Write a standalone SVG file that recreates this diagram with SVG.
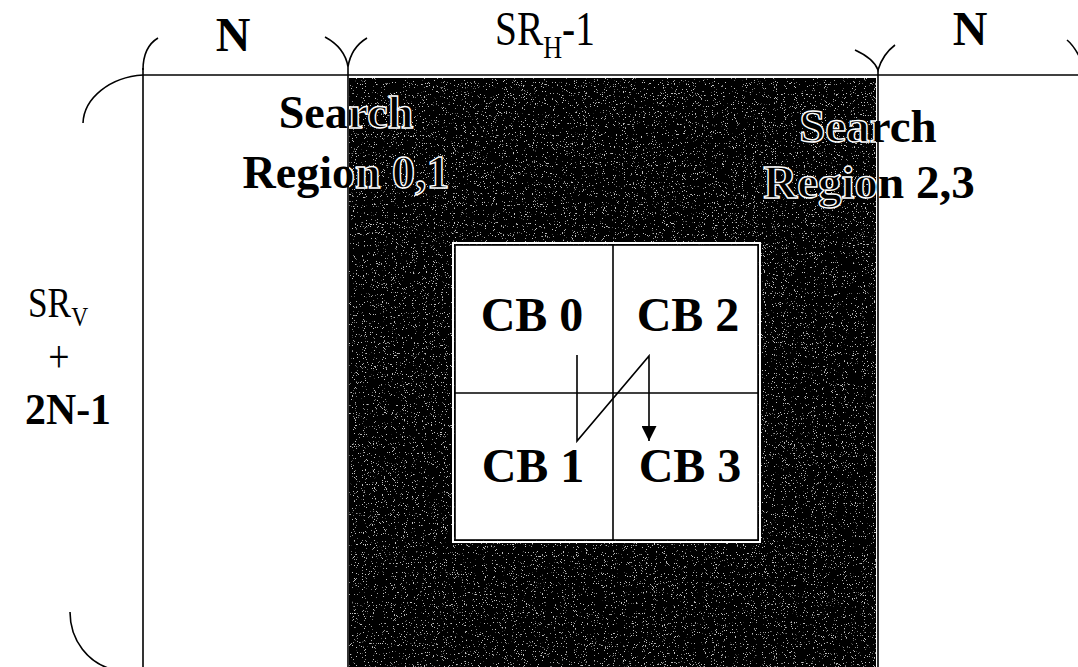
<svg xmlns="http://www.w3.org/2000/svg" xmlns:xlink="http://www.w3.org/1999/xlink" width="1078" height="667" viewBox="0 0 1078 667">
<style>
.tb{font-family:"Liberation Serif","Times New Roman",serif;font-weight:bold;fill:#000}
.tr{font-family:"Liberation Serif","Times New Roman",serif;font-weight:normal;fill:#000}
.ln{fill:none;stroke:#000;stroke-width:1.6}
.outl{fill:#000;stroke:#fff;stroke-width:1.4}
</style>
<defs>
<filter id="speck" x="0" y="0" width="100%" height="100%">
<feTurbulence type="fractalNoise" baseFrequency="0.9" numOctaves="2" seed="7" result="n"/>
<feColorMatrix in="n" type="matrix" values="0 0 0 0 0.55  0 0 0 0 0.55  0 0 0 0 0.55  14 0 0 0 -9.3" result="dots"/>
<feComposite in="dots" in2="SourceGraphic" operator="over"/>
</filter>
<clipPath id="darkclip"><rect x="349" y="78" width="527" height="589"/></clipPath>
<marker id="ah" viewBox="0 0 10 10" refX="10" refY="5" markerWidth="15" markerHeight="15" markerUnits="userSpaceOnUse" orient="auto"><path d="M0,0 L10,5 L0,10 Z" fill="#000"/></marker>
</defs>
<rect width="1078" height="667" fill="#fff"/>

<g id="dark-region">
<rect x="349" y="78" width="527" height="589" fill="#030303" filter="url(#speck)"/>
</g>

<g id="dimensions">
<line class="ln" x1="143" y1="75" x2="1078" y2="75"/>
<line class="ln" x1="143" y1="68" x2="143" y2="667"/>
<line class="ln" x1="348" y1="67" x2="348" y2="667"/>
<line class="ln" x1="878" y1="70" x2="878" y2="667"/>
<path class="ln" d="M143,70 C143,54 148,44 158,38"/>
<path class="ln" d="M325,37 C338,44 346,54 348,67 C350,54 357,44 367,38"/>
<path class="ln" d="M855,50 C866,55 875,62 878,70 C881,60 887,51 895,45"/>
<path class="ln" d="M1067,40 C1072,44 1076,50 1080,58"/>
<path class="ln" d="M143,75 C110,77 84,98 83,123"/>
<path class="ln" d="M70,612 C70,640 88,664 115,670"/>
<text class="tb" x="233" y="51" font-size="48" text-anchor="middle">N</text>
<text class="tb" x="970" y="45" font-size="48" text-anchor="middle">N</text>
<text class="tr" transform="translate(495,45) scale(0.82,1)" font-size="48">SR<tspan font-size="32" dy="13">H</tspan><tspan dy="-13">-1</tspan></text>
<text class="tr" transform="translate(28,317) scale(0.84,1)" font-size="42">SR<tspan font-size="28" dy="9">V</tspan></text>
<text class="tr" transform="translate(59,372) scale(0.82,1)" font-size="46" text-anchor="middle">+</text>
<text class="tb" x="25" y="424" font-size="45" textLength="86" lengthAdjust="spacingAndGlyphs">2N-1</text>
</g>

<g id="search-region-01">
<text id="sr01a" class="tb" x="346" y="128" font-size="46" text-anchor="middle">Search</text>
<text id="sr01b" class="tb" x="346" y="188" font-size="46" text-anchor="middle">Region 0,1</text>
<g clip-path="url(#darkclip)">
<use xlink:href="#sr01a" class="outl"/>
<use xlink:href="#sr01b" class="outl"/>
</g>
</g>

<g id="search-region-23">
<text id="sr23a" class="tb" x="868" y="142" font-size="47" text-anchor="middle">Search</text>
<text id="sr23b" class="tb" x="869" y="198" font-size="47" text-anchor="middle">Region 2,3</text>
<g clip-path="url(#darkclip)">
<use xlink:href="#sr23a" class="outl"/>
<use xlink:href="#sr23b" class="outl"/>
</g>
</g>

<g id="cb-block">
<rect x="453" y="243" width="307" height="299" fill="none" stroke="#fff" stroke-width="2"/>
<rect x="455" y="245" width="303" height="295" fill="#fff" stroke="#000" stroke-width="1.6"/>
<line class="ln" x1="613" y1="245" x2="613" y2="540"/>
<line class="ln" x1="455" y1="393" x2="758" y2="393"/>
</g>
<g id="cb0"><text class="tb" x="532" y="331" font-size="48" text-anchor="middle">CB 0</text></g>
<g id="cb2"><text class="tb" x="688" y="331" font-size="48" text-anchor="middle">CB 2</text></g>
<g id="cb1"><text class="tb" x="533" y="482" font-size="48" text-anchor="middle">CB 1</text></g>
<g id="cb3"><text class="tb" x="690" y="482" font-size="48" text-anchor="middle">CB 3</text></g>

<g id="connectors">
<path class="ln" d="M577,355 L577,441 L649,356 L649,441" marker-end="url(#ah)"/>
</g>
</svg>
